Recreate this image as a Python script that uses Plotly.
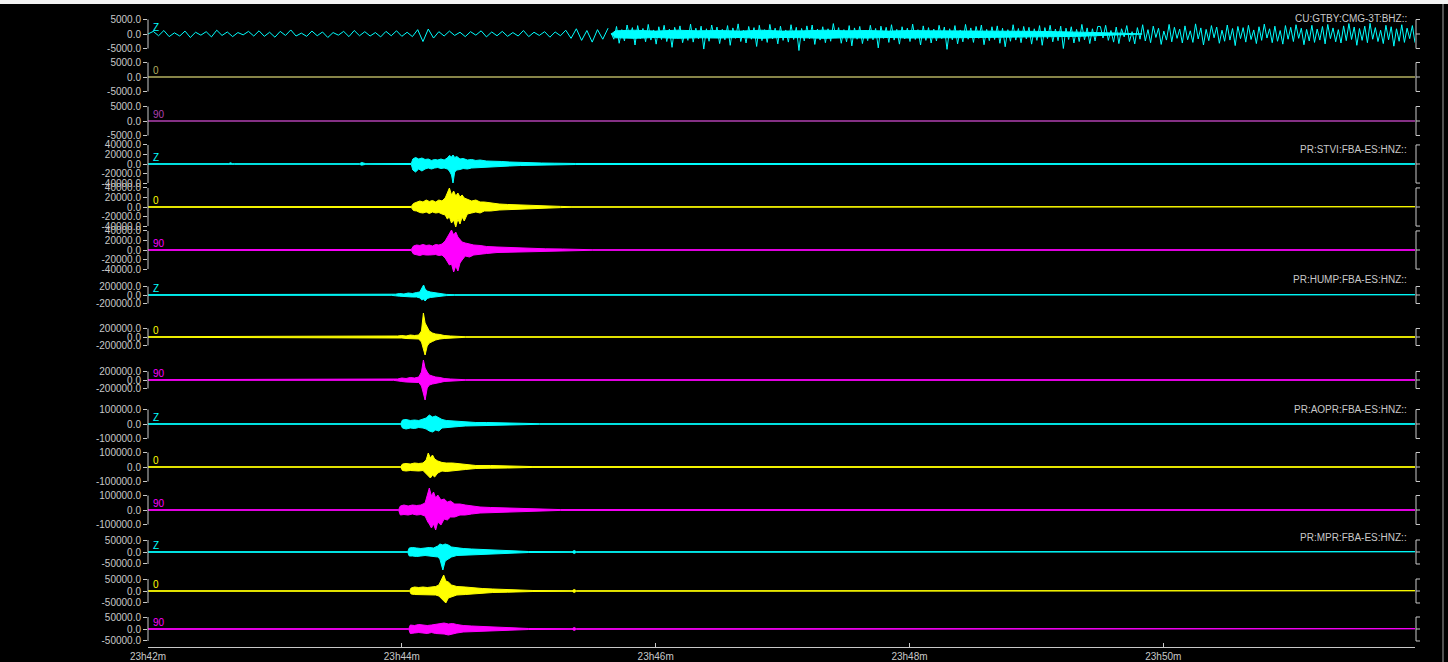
import numpy as np
import plotly.graph_objects as go

# ---------------- time axis (seconds after 23h42m00s) ----------------
time_end = 599
time_tick_vals = [0, 120, 240, 360, 480]
time_tick_text = ["23h42m", "23h44m", "23h46m", "23h48m", "23h50m"]

station_names = ["CU:GTBY:CMG-3T:BHZ::", "PR:STVI:FBA-ES:HNZ::", "PR:HUMP:FBA-ES:HNZ::",
                 "PR:AOPR:FBA-ES:HNZ::", "PR:MPR:FBA-ES:HNZ::"]
station_ticks = [[-5000, 0, 5000],
                 [-40000, -20000, 0, 20000, 40000],
                 [-200000, 0, 200000],
                 [-100000, 0, 100000],
                 [-50000, 0, 50000]]
channel_names = ["Z", "0", "90"]

# ---------------- CU:GTBY (BHZ) : sampled values ----------------
cu_quiet_step = 2.5
cu_z_quiet = [0, 900, -600, 1200, -900, 400, -700, 1000, -1200, 600, -400, 800, -1000, 1300, -500, 700, -900, 500, -300, 900,
              -700, 1100, -800, 600, -1100, 900, -500, 1400, -700, 300, -800, 1000, -600, 700, -1200, 500, -400, 900, -900, 1200,
              -600, 800, -700, 500, -1000, 900, -600, 1100, -800, 600, -900, 1500, -2600, 1700, -1400, 800, -700, 1000, -500, 600,
              -900, 800, -400, 1100, -1000, 700, -600, 900, -800, 500, -700, 1200, -900, 600, -500, 800, -1100, 700, -600, 1300,
              -1500, 1800, -2200, 1200, -2800, 1500, -1800, 2000]
cu_active_start = 219
cu_active_step = 1.25
cu_z_active = [
    300, -1800, 2600, -3200, 1500, -2400, 3100, -1200, 2200, -3800, 2900, -1600, 1900, -2700, 3300, -2100, 1400, -3500, 2500, -1900,
    3000, -2600, 1700, -4600, 2300, -1400, 2800, -3000, 1200, -2200, 3400, -2800, 2000, -1700, 2700, -5200, 1800, -2500, 3100, -1300,
    2400, -3300, 1600, -2000, 2900, -3900, 2100, -1500, 3500, -2600, 1300, -3100, 2600, -1800, 2200, -4300, 3000, -2300, 1500, -2900,
    3300, -1700, 2000, -3400, 2700, -2200, 1400, -2800, 3200, -1900, 2300, -5700, 1900, -2400, 2800, -1600, 3100, -3600, 1700, -2100,
    2500, -3000, 1800, -2500, 3600, -1400, 2200, -3200, 1500, -2700, 2900, -4100, 2100, -1800, 2600, -3300, 1300, -2300, 3000, -2000,
    1900, -4800, 2700, -1500, 2300, -2900, 3200, -2100, 1600, -3500, 2500, -1700, 2000, -2600, 3400, -1900, 1500, -3800, 2800, -2200,
    2200, -3100, 1700, -2400, 3000, -1600, 2400, -5300, 1800, -2000, 2900, -3400, 1400, -2700, 3300, -1800, 2100, -2900, 2600, -1500,
    3100, -3700, 1600, -2300, 2500, -1900, 2800, -3200, 2000, -4400, 1500, -2500, 3200, -2100, 1900, -3000, 2600, -1700, 2300, -3500,
    1800, -2200, 2900, -3900, 2200, -1600, 3000, -2700, 1700, -2300, 2700, -5000, 2000, -1900, 2500, -3100, 1600, -2600, 3300, -2000,
    2100, -3300, 1800, -2400, 2600,
    2600, -1400, 3000, -2200, 1200, -2800, 2400, -3300, 1800, -1000, 2900, -2600, 800, -3400, 2200, -1800, 3200, -2400, 1500, -3000,
    2700, -1200, 2000, -3600, 1000, -2100, 3300, -2700, 2300, -1500, 1700, -3100, 2800, -2000, 1100, -2900, 3500, -1700, 2100, -3800,
    1600, -2300, 2900, -1300, 2400, -3200, 1300, -2500, 3100, -2100, 1900, -4000, 2600, -1600, 2200, -2800, 3000, -1900, 1400, -3300,
    2500, -2200, 3400, -1400, 1800, -3000, 2700, -2500, 1200, -3500, 2900, -1800, 2300, -2600, 3200, -1500, 2000, -3700, 1600, -2400,
    3000, -2900, 1700, -2100, 2600, -3400, 3300, -1600, 2100, -2700, 1500, -3100, 2800, -2300, 3600, -1900, 2400, -3900, 1900, -2200,
    2700, -3000, 3700, -1800, 2200, -2600, 1300, -3300, 3000, -2000, 2500, -4200, 1800, -2500, 3200, -2900, 2000, -1600, 2900, -3000]
# dense core of the high-frequency section (envelope: time, upper, lower)
cu_z_core_t = [219, 221, 230, 240, 250, 260, 270, 280, 290, 300, 310, 320, 330, 340, 350, 360, 370, 380, 390, 400, 410, 420,
               430, 440, 450, 460, 470]
cu_z_core_up = [0, 1100, 1300, 1000, 1300, 1100, 1200, 1000, 1300, 1000, 1100, 1300, 1100, 1200, 1000, 1200, 1100, 1100, 1000,
                1100, 900, 900, 800, 700, 500, 300, 0]
cu_z_core_lo = [0, -1300, -1500, -1200, -1500, -1300, -1400, -1200, -1500, -1200, -1300, -1500, -1300, -1400, -1200, -1400,
                -1300, -1300, -1200, -1300, -1100, -1000, -900, -800, -600, -300, 0]
cu_0_t = [0, 599]
cu_0_v = [0.0, 0.0]
cu_90_t = [0, 599]
cu_90_v = [0.0, 0.0]

# ---------------- PR:STVI (envelopes: time, upper, lower) ----------------
stvi_z_t = [0, 38, 39, 40, 41, 100, 101, 103, 124.5, 125.2, 126.5, 128, 129.5, 131, 132.5, 134, 135.5, 137, 138.5, 140, 141.5,
            142.5, 143.5, 144.2, 145, 146, 147.5, 149, 151, 153, 155, 157, 160, 163, 167, 171, 176, 181, 186, 192, 197, 202, 599]
stvi_z_up = [600, 600, 2500, 600, 600, 600, 3200, 600, 1100, 10500, 13700, 10500, 12600, 9500, 10500, 7400, 9500, 8400, 10500,
             8400, 12600, 17900, 14700, 18900, 13700, 15800, 10500, 11600, 8400, 9500, 7400, 8400, 6300, 6300, 5300, 4200, 3200,
             2500, 2100, 1700, 1300, 1100, 600]
stvi_z_lo = [-600, -600, -2100, -600, -600, -600, -2500, -600, -1100, -12600, -16800, -10500, -14700, -10500, -8400, -10500,
             -8400, -7400, -9500, -8400, -10500, -14700, -23100, -39900, -16800, -12600, -11600, -9500, -10500, -8400, -8400,
             -7400, -6300, -5300, -5300, -4200, -3200, -2500, -2100, -1700, -1300, -1100, -600]

stvi_0_t = [0, 20, 22, 24, 60, 62, 64, 110, 115, 118, 124.5, 125.5, 127, 128.5, 130, 131.5, 133, 134.5, 136, 137.5, 139, 140.5,
            141.5, 142.5, 143.5, 144.5, 145.5, 146.5, 147.5, 148.5, 149.5, 151, 153, 155, 157, 159, 162, 166, 170, 175, 180, 185,
            190, 195, 200, 599]
stvi_0_up = [600, 600, 2100, 600, 600, 1700, 600, 1100, 2100, 1100, 1100, 7400, 10500, 12600, 10500, 14700, 11600, 13700, 10500,
             14700, 12600, 18900, 29400, 39900, 25200, 33600, 23100, 29400, 21000, 25200, 18900, 16800, 12600, 14700, 10500,
             10500, 8400, 6300, 5300, 4200, 3200, 2500, 2100, 1300, 600, 600]
stvi_0_lo = [-600, -600, -2100, -600, -600, -1700, -600, -1100, -2100, -1100, -1100, -7400, -8400, -11600, -12600, -10500,
             -13700, -10500, -12600, -11600, -14700, -16800, -25200, -21000, -33600, -27300, -42000, -25200, -35700, -21000,
             -29400, -14700, -12600, -10500, -12600, -8400, -8400, -6300, -5300, -4200, -3200, -2500, -2100, -1300, -600, -600]

stvi_90_t = [0, 124.5, 125.5, 127, 128.5, 130, 131.5, 133, 134.5, 136, 137.5, 139, 140.5, 141.5, 142.5, 143.5, 144.5, 145.5,
             146.5, 147.5, 148.5, 150, 152, 154, 157, 160, 165, 170, 175, 180, 188, 196, 204, 210, 599]
stvi_90_up = [600, 1100, 8400, 10500, 9500, 11600, 9500, 10500, 8400, 11600, 10500, 12600, 18900, 27300, 35700, 42000, 31500,
              37800, 27300, 23100, 16800, 14700, 12600, 10500, 9500, 7400, 6300, 5300, 4200, 3200, 2500, 2100, 1300, 600, 600]
stvi_90_lo = [-600, -1100, -8400, -9500, -11600, -9500, -10500, -10500, -10500, -9500, -11600, -10500, -16800, -23100, -31500,
              -29400, -46200, -33600, -44100, -27300, -21000, -12600, -14700, -10500, -8400, -7400, -5300, -5300, -4200, -3200,
              -2500, -2100, -1300, -600, -600]

# ---------------- PR:HUMP ----------------
hump_z_t = [0, 115, 117, 119, 121, 123, 125, 127, 128.5, 129.5, 130.3, 131, 132, 133.5, 135, 137, 139, 141, 145, 599]
hump_z_up = [7000, 7000, 19000, 35000, 23500, 47000, 35000, 59000, 70000, 165000, 235000, 141000, 94000, 70000, 59000, 47000,
             28000, 14000, 7000, 7000]
hump_z_lo = [-7000, -7000, -19000, -28000, -35000, -35000, -47000, -47000, -70000, -118000, -94000, -141000, -82000, -59000,
             -47000, -47000, -23500, -14000, -7000, -7000]

hump_0_t = [0, 116, 118, 120, 122, 124, 126, 128, 129.3, 130.2, 131, 132, 133, 134.5, 136, 138, 140, 143, 147, 150, 599]
hump_0_up = [7000, 7000, 23500, 35000, 23500, 47000, 35000, 47000, 141000, 564000, 329000, 235000, 141000, 94000, 70000, 59000,
             35000, 23500, 12000, 7000, 7000]
hump_0_lo = [-7000, -7000, -23500, -23500, -35000, -35000, -47000, -47000, -118000, -282000, -423000, -212000, -141000, -106000,
             -70000, -47000, -35000, -23500, -12000, -7000, -7000]

hump_90_t = [0, 116, 118, 120, 122, 124, 126, 128, 129.3, 130.2, 131, 132, 133, 134.5, 136, 138, 140, 143, 147, 150, 599]
hump_90_up = [7000, 7000, 23500, 47000, 35000, 59000, 47000, 70000, 188000, 470000, 282000, 188000, 118000, 94000, 70000, 59000,
              35000, 23500, 12000, 7000, 7000]
hump_90_lo = [-7000, -7000, -23500, -35000, -47000, -47000, -59000, -59000, -141000, -329000, -470000, -188000, -118000, -94000,
              -70000, -59000, -35000, -23500, -12000, -7000, -7000]

# ---------------- PR:AOPR ----------------
aopr_z_t = [0, 119.5, 120.3, 122, 124, 126, 128, 130, 131.5, 133, 134.5, 136, 137.5, 139, 141, 144, 147, 150, 155, 160, 166, 172,
            178, 185, 599]
aopr_z_up = [2100, 2100, 27600, 31100, 24200, 27600, 24200, 31100, 41400, 62100, 48300, 55200, 41400, 31100, 24200, 20700, 20700,
             17300, 10400, 10400, 8300, 5500, 3500, 2100, 2100]
aopr_z_lo = [-2100, -2100, -27600, -34500, -27600, -31100, -24200, -27600, -34500, -48300, -55200, -41400, -48300, -27600, -24200,
             -20700, -17300, -13800, -10400, -8300, -6900, -5500, -3500, -2100, -2100]

aopr_0_t = [0, 119.5, 120.3, 122, 124, 126, 128, 130, 131.5, 132.5, 133.5, 134.5, 135.5, 137, 139, 141, 144, 147, 150, 155, 162,
            170, 177, 182, 599]
aopr_0_up = [2100, 2100, 20700, 24200, 20700, 27600, 24200, 27600, 48300, 96600, 62100, 82800, 55200, 41400, 31100, 27600, 27600,
             24200, 17300, 10400, 10400, 8300, 5500, 2800, 2100]
aopr_0_lo = [-2100, -2100, -24200, -27600, -24200, -24200, -27600, -24200, -41400, -62100, -75900, -55200, -69000, -41400, -27600,
             -31100, -24200, -20700, -17300, -10400, -8300, -6900, -5500, -2800, -2100]

aopr_90_t = [0, 118.5, 119.3, 121, 123, 125, 127, 129, 131, 132.3, 133, 134, 135, 136, 137, 138.5, 140, 141.5, 143, 145, 147.5,
             150, 153, 157, 162, 168, 175, 182, 188, 195, 599]
aopr_90_up = [2100, 2100, 27600, 34500, 27600, 34500, 31100, 34500, 48300, 110400, 151800, 96600, 124200, 82800, 103500, 69000,
              75900, 55200, 62100, 41400, 41400, 34500, 27600, 20700, 17300, 13800, 10400, 8300, 5500, 2800, 2100]
aopr_90_lo = [-2100, -2100, -34500, -31100, -34500, -27600, -34500, -31100, -41400, -82800, -96600, -124200, -96600, -138000,
              -82800, -103500, -62100, -69000, -48300, -48300, -34500, -34500, -27600, -20700, -17300, -13800, -10400, -8300,
              -5500, -2800, -2100]

# ---------------- PR:MPR ----------------
mpr_z_t = [0, 122.8, 123.5, 125, 127, 129, 131, 133, 135, 137, 138, 139.4, 140.5, 142, 143.5, 146, 149, 153, 158, 163, 168, 174,
           180, 200.5, 201.5, 202.5, 599]
mpr_z_up = [1300, 1300, 16700, 18800, 16700, 14600, 16700, 18800, 16700, 25000, 33400, 29200, 33400, 29200, 20900, 16700, 14600,
            12500, 10400, 8300, 5000, 4200, 2100, 1300, 6300, 1300, 1300]
mpr_z_lo = [-1300, -1300, -16700, -16700, -18800, -16700, -14600, -16700, -18800, -20900, -29200, -75100, -37500, -29200, -20900,
            -14600, -12500, -10400, -8300, -6300, -5000, -4200, -2100, -1300, -6300, -1300, -1300]

mpr_0_t = [0, 123.7, 124.4, 126, 128, 130, 132, 134, 136, 137.5, 138.8, 139.8, 140.8, 142, 143.5, 146, 150, 154, 158, 163, 170,
           177, 182, 200.5, 201.5, 202.5, 599]
mpr_0_up = [1300, 1300, 12500, 16700, 14600, 16700, 14600, 16700, 18800, 25000, 50000, 66700, 41700, 37500, 25000, 18800, 16700,
            12500, 10400, 8300, 6300, 4200, 2100, 1300, 6300, 1300, 1300]
mpr_0_lo = [-1300, -1300, -12500, -14600, -16700, -14600, -16700, -16700, -16700, -20900, -33400, -41700, -50000, -29200, -25000,
            -16700, -14600, -12500, -8300, -6300, -5000, -4200, -2100, -1300, -6300, -1300, -1300]

mpr_90_t = [0, 123.3, 124, 126, 128, 130, 132, 134, 136, 138, 140, 142, 144, 146, 149, 153, 158, 163, 168, 174, 180, 200.5,
            201.5, 202.5, 599]
mpr_90_up = [1300, 1300, 16700, 14600, 18800, 16700, 14600, 16700, 18800, 22900, 25000, 20900, 22900, 18800, 14600, 12500, 10400,
             8300, 6300, 4200, 2100, 1300, 6300, 1300, 1300]
mpr_90_lo = [-1300, -1300, -18800, -16700, -14600, -16700, -18800, -14600, -18800, -20900, -20900, -25000, -20900, -16700, -12500,
             -10400, -8300, -8300, -6300, -4200, -2100, -1300, -6300, -1300, -1300]

# ---------------- layout geometry / styles ----------------
W, H = 1448, 662
M_L, M_R, M_T, M_B = 148, 33, 0, 15
PH = H - M_T - M_B          # plot height in px
PW = W - M_L - M_R
panel_centers_px = [34, 77, 121, 164, 207, 250, 295, 337, 380, 424, 467, 510, 552, 591, 629]
station_px_scale = [345, 2100, 23500, 6900, 4170]     # data units per pixel
half_px = 26
chan_colors = ["#00ffff", "#ffff00", "#ff00ff"]
dead_colors = {1: "#b4b060", 2: "#b040b0"}
axis_gray = "#c8c8c8"
FONT = "Liberation Sans, Arial, sans-serif"

fig = go.Figure()
shapes = []
annotations = []
layout_axes = {}


def ypx_to_paper(py):
    return (PH - py) / PH


def add_env(t, up, lo, color, yname):
    xs = list(t) + list(t)[::-1]
    ys = list(up) + list(lo)[::-1]
    fig.add_trace(go.Scatter(x=xs, y=ys, mode="lines", fill="toself", fillcolor=color,
                             line=dict(color=color, width=1), xaxis="x", yaxis=yname,
                             hoverinfo="skip", showlegend=False))


def add_line(t, v, color, yname, width=1.0):
    fig.add_trace(go.Scatter(x=list(t), y=list(v), mode="lines", line=dict(color=color, width=width),
                             xaxis="x", yaxis=yname, hoverinfo="skip", showlegend=False))


envelopes = {
    3: (stvi_z_t, stvi_z_up, stvi_z_lo), 4: (stvi_0_t, stvi_0_up, stvi_0_lo), 5: (stvi_90_t, stvi_90_up, stvi_90_lo),
    6: (hump_z_t, hump_z_up, hump_z_lo), 7: (hump_0_t, hump_0_up, hump_0_lo), 8: (hump_90_t, hump_90_up, hump_90_lo),
    9: (aopr_z_t, aopr_z_up, aopr_z_lo), 10: (aopr_0_t, aopr_0_up, aopr_0_lo), 11: (aopr_90_t, aopr_90_up, aopr_90_lo),
    12: (mpr_z_t, mpr_z_up, mpr_z_lo), 13: (mpr_0_t, mpr_0_up, mpr_0_lo), 14: (mpr_90_t, mpr_90_up, mpr_90_lo),
}

for i in range(15):
    st = i // 3
    ch = i % 3
    k = station_px_scale[st]
    c = panel_centers_px[i]
    pt = max(c - half_px, 0)
    pb = min(c + half_px, PH)
    yname = "y" if i == 0 else f"y{i + 1}"
    ykey = "yaxis" if i == 0 else f"yaxis{i + 1}"
    ticks = station_ticks[st]
    layout_axes[ykey] = dict(
        domain=[ypx_to_paper(pb), ypx_to_paper(pt)],
        range=[-(pb - c) * k, (c - pt) * k],
        anchor="x", showgrid=False, zeroline=False, showline=False,
        tickmode="array", tickvals=ticks, ticktext=[f"{v:.1f}" for v in ticks],
        ticks="outside", ticklen=4, tickcolor=axis_gray, tickwidth=1,
        tickfont=dict(family=FONT, size=10, color=axis_gray), fixedrange=True,
    )
    color = chan_colors[ch]
    if i == 0:
        t_quiet = np.arange(len(cu_z_quiet)) * cu_quiet_step
        add_line(t_quiet, cu_z_quiet, color, yname)
        add_env(cu_z_core_t, cu_z_core_up, cu_z_core_lo, color, yname)
        t_active = cu_active_start + np.arange(len(cu_z_active)) * cu_active_step
        add_line(t_active, cu_z_active, color, yname)
    elif i == 1:
        add_line(cu_0_t, cu_0_v, dead_colors[1], yname, width=1.3)
    elif i == 2:
        add_line(cu_90_t, cu_90_v, dead_colors[2], yname, width=1.3)
    else:
        t, up, lo = envelopes[i]
        add_env(t, up, lo, color, yname)
    # left bracket (axis line spanning the tick range)
    shapes.append(dict(type="line", xref="paper", yref=yname, x0=0, x1=0, y0=ticks[0], y1=ticks[-1],
                       line=dict(color=axis_gray, width=1)))
    # right bracket
    xr = 1 + 1 / PW
    xr2 = 1 + 5 / PW
    shapes.append(dict(type="line", xref="paper", yref=yname, x0=xr, x1=xr, y0=ticks[0], y1=ticks[-1],
                       line=dict(color=axis_gray, width=1)))
    for yv in (ticks[0], 0, ticks[-1]):
        shapes.append(dict(type="line", xref="paper", yref=yname, x0=xr, x1=xr2, y0=yv, y1=yv,
                           line=dict(color=axis_gray, width=1)))
    # channel label
    annotations.append(dict(text=channel_names[ch], xref="paper", yref=yname, x=0, y=0, xanchor="left",
                            yanchor="bottom", xshift=3, yshift=-1, showarrow=False,
                            font=dict(family=FONT, size=10, color=dead_colors.get(i, color))))
    if ch == 0:
        annotations.append(dict(text=station_names[st], xref="paper", yref=yname, x=1, y=0, xanchor="right",
                                yanchor="middle", xshift=-6, yshift=15, showarrow=False,
                                font=dict(family=FONT, size=10, color=axis_gray)))

# frame decorations of the original window
shapes.append(dict(type="rect", xref="paper", yref="paper", x0=-M_L / PW, x1=(W - M_L) / PW,
                   y0=ypx_to_paper(4), y1=1.0, fillcolor="#f2f2f2", line=dict(width=0), layer="above"))
shapes.append(dict(type="line", xref="paper", yref="paper", x0=(1443 - M_L) / PW, x1=(1443 - M_L) / PW,
                   y0=-M_B / PH, y1=ypx_to_paper(4), line=dict(color="#a0a0a0", width=1)))

fig.update_layout(
    width=W, height=H,
    margin=dict(l=M_L, r=M_R, t=M_T, b=M_B, pad=0),
    paper_bgcolor="#000000", plot_bgcolor="rgba(0,0,0,0)",
    showlegend=False,
    xaxis=dict(range=[0, time_end], domain=[0, 1], anchor="free", position=0,
               showline=True, linecolor=axis_gray, linewidth=1, showgrid=False, zeroline=False,
               tickmode="array", tickvals=time_tick_vals, ticktext=time_tick_text,
               ticks="inside", ticklen=4, tickcolor=axis_gray,
               tickfont=dict(family=FONT, size=10, color=axis_gray), fixedrange=True),
    shapes=shapes, annotations=annotations,
    **layout_axes,
)

fig.write_html("out.html", config={"displayModeBar": False},
               post_script="document.body.style.margin='0px';document.body.style.background='#000000';")
